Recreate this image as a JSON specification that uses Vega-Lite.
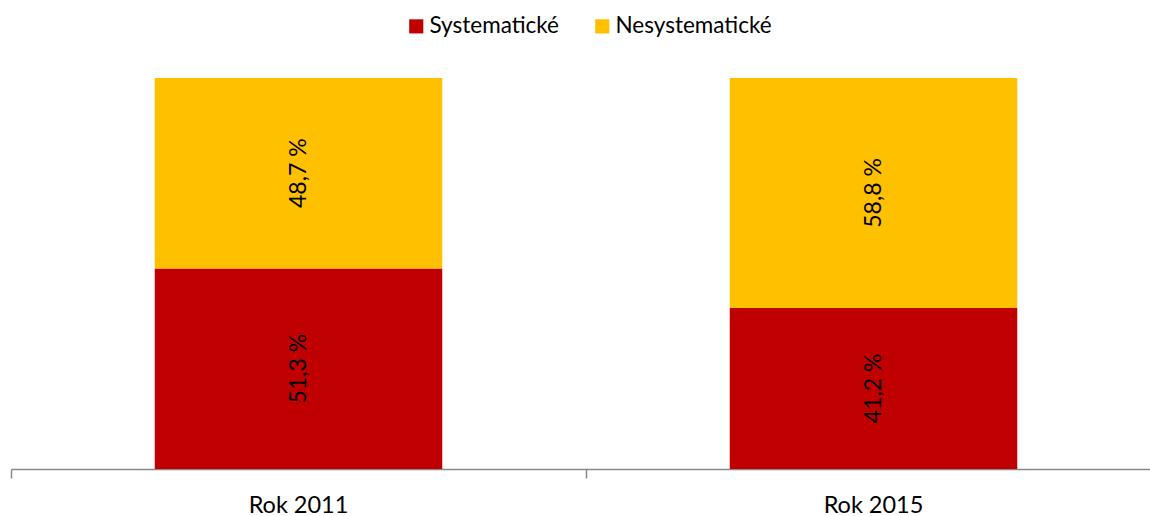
{
  "$schema": "https://vega.github.io/schema/vega-lite/v6.json",
  "autosize": "none",
  "width": 1150,
  "height": 391,
  "padding": {"left": 11, "top": 78, "right": 0, "bottom": 47},
  "background": "white",
  "config": {"view": {"stroke": null}, "font": "Lato"},
  "data": {"values": [
    {"rok": "Rok 2011", "typ": "Systematické", "k": 1, "hodnota": 51.3, "popis": "51,3 %"},
    {"rok": "Rok 2011", "typ": "Nesystematické", "k": 2, "hodnota": 48.7, "popis": "48,7 %"},
    {"rok": "Rok 2015", "typ": "Systematické", "k": 1, "hodnota": 41.2, "popis": "41,2 %"},
    {"rok": "Rok 2015", "typ": "Nesystematické", "k": 2, "hodnota": 58.8, "popis": "58,8 %"}
  ]},
  "encoding": {
    "x": {"field": "rok", "type": "nominal", "scale": {"paddingInner": 0, "paddingOuter": 0}}
  },
  "layer": [
    {
      "mark": {"type": "bar", "width": {"band": 0.5}},
      "encoding": {
        "x": {"field": "rok", "type": "nominal", "title": null,
          "axis": {"orient": "bottom", "labelAngle": 0, "ticks": false, "domain": true, "domainColor": "#898989", "domainWidth": 1.5, "labelFontSize": 23.5, "labelColor": "#000000", "labelPadding": 24, "labelFont": "Lato"}},
        "y": {"field": "hodnota", "type": "quantitative", "stack": "zero", "scale": {"domain": [0, 100]}, "axis": null},
        "color": {"field": "typ", "type": "nominal",
          "scale": {"domain": ["Systematické", "Nesystematické"], "range": ["#C00000", "#FFC000"]},
          "legend": {"orient": "none", "direction": "horizontal", "legendX": 394, "legendY": -63, "title": null,
            "symbolType": "square", "symbolSize": 200, "symbolStrokeWidth": 0, "labelFontSize": 22.5, "labelFont": "Lato", "labelColor": "#000000", "columnPadding": 32, "labelOffset": 2}},
        "order": {"field": "k", "type": "quantitative"}
      }
    },
    {
      "mark": {"type": "text", "angle": 270, "fontSize": 23, "color": "#000000", "font": "Lato"},
      "encoding": {
        "x": {"field": "rok", "type": "nominal", "title": null,
          "axis": {"orient": "bottom", "bandPosition": 0, "labels": false, "ticks": true, "tickSize": 9, "tickColor": "#898989", "tickWidth": 1.5, "domain": false, "grid": false}},
        "y": {"field": "hodnota", "type": "quantitative", "stack": "zero", "bandPosition": 0.5},
        "detail": {"field": "typ"},
        "order": {"field": "k", "type": "quantitative"},
        "text": {"field": "popis"}
      }
    }
  ],
  "resolve": {"axis": {"x": "independent"}}
}
